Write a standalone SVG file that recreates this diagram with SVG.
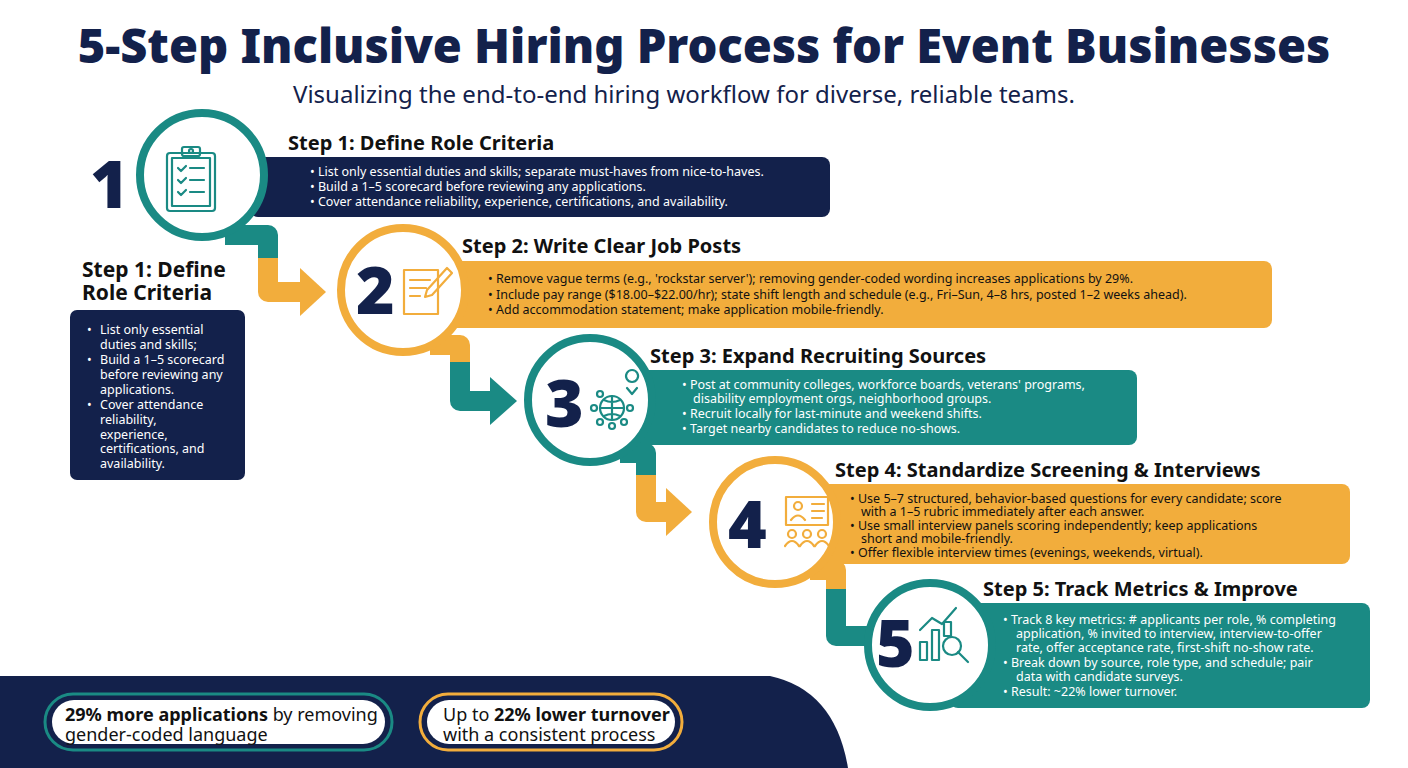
<svg xmlns="http://www.w3.org/2000/svg" width="1408" height="768" viewBox="0 0 1408 768">
<style>
.title{font-family:"Noto Sans",sans-serif;font-weight:900;font-size:47px;fill:#13214b}
.sub{font-family:"Noto Sans",sans-serif;font-size:24px;fill:#13214b}
.h{font-family:"Noto Sans",sans-serif;font-weight:700;font-size:20px;fill:#111}
.b{font-family:"Noto Sans",sans-serif;font-size:12.5px;fill:#fff}
.bd{font-family:"Noto Sans",sans-serif;font-size:12.5px;fill:#111}
.num{font-family:"Noto Sans",sans-serif;font-weight:900;font-size:66px;fill:#13214b}
.navy{fill:#13214b}.teal{fill:#1a8a84}.orng{fill:#f2ad3c}
.ct{fill:#fff;stroke:#1a8a84;stroke-width:8}
.co{fill:#fff;stroke:#f2ad3c;stroke-width:8}
.ic{fill:none;stroke-width:2.2;stroke-linecap:round;stroke-linejoin:round}
.pill{font-family:"Noto Sans",sans-serif;font-size:18px;fill:#111}
</style>
<rect width="1408" height="768" fill="#fff"/>
<text class="title" x="704" y="63" text-anchor="middle">5-Step Inclusive Hiring Process for Event Businesses</text>
<text class="sub" x="684" y="103" text-anchor="middle">Visualizing the end-to-end hiring workflow for diverse, reliable teams.</text>

<g id="connectors" fill="none" stroke-width="20" stroke-linejoin="round">
<path d="M225,235 H268 V262" stroke="#1a8a84"/>
<path d="M268,258 V292 H302" stroke="#f2ad3c"/>
<polygon points="300,268 326,292 300,316" fill="#f2ad3c" stroke="none"/>
<path d="M430,345 H460 V365" stroke="#f2ad3c"/>
<path d="M460,362 V401 H492" stroke="#1a8a84"/>
<polygon points="490,377 517,401 490,425" fill="#1a8a84" stroke="none"/>
<path d="M620,453 H646 V478" stroke="#1a8a84"/>
<path d="M646,475 V512 H668" stroke="#f2ad3c"/>
<polygon points="666,488 692,512 666,536" fill="#f2ad3c" stroke="none"/>
<path d="M810,570 H836 V592" stroke="#f2ad3c"/>
<path d="M836,589 V636 H872" stroke="#1a8a84"/>
</g>

<g id="step1">
<rect x="250" y="157" width="580" height="60" rx="8" class="navy"/>
<text class="h" x="288" y="150">Step 1: Define Role Criteria</text>
<text class="b" x="310" y="176">•  List only essential duties and skills; separate must-haves from nice-to-haves.</text>
<text class="b" x="310" y="191">•  Build a 1–5 scorecard before reviewing any applications.</text>
<text class="b" x="310" y="206">•  Cover attendance reliability, experience, certifications, and availability.</text>
<circle cx="202" cy="175" r="62" class="ct"/>
<text class="num" x="90" y="208">1</text>
<g class="ic" stroke="#1a8a84">
<rect x="167" y="153" width="48" height="58" rx="3"/><rect x="172" y="158" width="38" height="48"/>
<rect x="182" y="147" width="18" height="9" rx="2"/><circle cx="191" cy="151" r="2"/>
<path d="M178,168 l3,3 l5,-5 M190,168 H204 M178,180 l3,3 l5,-5 M190,180 H204 M178,192 l3,3 l5,-5 M190,192 H204"/>
</g>
</g>

<g id="step2">
<rect x="430" y="261" width="842" height="67" rx="8" class="orng"/>
<text class="h" x="462" y="253">Step 2: Write Clear Job Posts</text>
<text class="bd" x="488" y="283">•  Remove vague terms (e.g., 'rockstar server'); removing gender-coded wording increases applications by 29%.</text>
<text class="bd" x="488" y="299">•  Include pay range ($18.00–$22.00/hr); state shift length and schedule (e.g., Fri–Sun, 4–8 hrs, posted 1–2 weeks ahead).</text>
<text class="bd" x="488" y="314">•  Add accommodation statement; make application mobile-friendly.</text>
<circle cx="403" cy="290" r="62" class="co"/>
<text class="num" x="356" y="314">2</text>
<g class="ic" stroke="#f2ad3c">
<rect x="404" y="270" width="34" height="44"/>
<path d="M410,280 H430 M410,288 H426 M410,296 H420 M447,268 l5,5 l-20,22 l-7,2 l2,-7 z"/>
</g>
</g>

<g id="step3">
<rect x="615" y="370" width="522" height="75" rx="8" class="teal"/>
<text class="h" x="650" y="363">Step 3: Expand Recruiting Sources</text>
<text class="b" x="682" y="389">•  Post at community colleges, workforce boards, veterans' programs,</text>
<text class="b" x="693" y="403">disability employment orgs, neighborhood groups.</text>
<text class="b" x="682" y="418">•  Recruit locally for last-minute and weekend shifts.</text>
<text class="b" x="682" y="433">•  Target nearby candidates to reduce no-shows.</text>
<circle cx="590" cy="400" r="62" class="ct"/>
<text class="num" x="545" y="427">3</text>
<g class="ic" stroke="#1a8a84">
<circle cx="612" cy="408" r="12"/><path d="M600,408 H624 M612,396 V420 M604,400 Q612,404 620,400 M604,416 Q612,412 620,416"/>
<circle cx="594" cy="408" r="3"/><circle cx="612" cy="426" r="3"/><circle cx="630" cy="408" r="3"/><circle cx="600" cy="394" r="3"/><circle cx="624" cy="422" r="3"/><circle cx="600" cy="422" r="3"/>
<path d="M632,382 a6,6 0 1,1 0.1,0 M632,394 l-5,-6 M632,394 l5,-6"/>
</g>
</g>

<g id="step4">
<rect x="800" y="484" width="550" height="80" rx="8" class="orng"/>
<text class="h" x="835" y="477">Step 4: Standardize Screening &amp; Interviews</text>
<text class="bd" x="850" y="503">•  Use 5–7 structured, behavior-based questions for every candidate; score</text>
<text class="bd" x="861" y="516">with a 1–5 rubric immediately after each answer.</text>
<text class="bd" x="850" y="530">•  Use small interview panels scoring independently; keep applications</text>
<text class="bd" x="861" y="543">short and mobile-friendly.</text>
<text class="bd" x="850" y="557">•  Offer flexible interview times (evenings, weekends, virtual).</text>
<circle cx="775" cy="522" r="62" class="co"/>
<text class="num" x="728" y="548">4</text>
<g class="ic" stroke="#f2ad3c">
<rect x="786" y="497" width="42" height="28"/><circle cx="798" cy="506" r="4"/><path d="M791,520 q7,-9 14,0 M812,504 H824 M812,511 H824 M812,518 H822"/>
<circle cx="792" cy="534" r="4"/><circle cx="807" cy="534" r="4"/><circle cx="822" cy="534" r="4"/>
<path d="M785,546 q7,-10 14,0 M800,546 q7,-10 14,0 M815,546 q7,-10 14,0"/>
</g>
</g>

<g id="step5">
<rect x="950" y="603" width="420" height="105" rx="8" class="teal"/>
<text class="h" x="983" y="596">Step 5: Track Metrics &amp; Improve</text>
<text class="b" x="1003" y="624">•  Track 8 key metrics: # applicants per role, % completing</text>
<text class="b" x="1016" y="638">application, % invited to interview, interview-to-offer</text>
<text class="b" x="1016" y="652">rate, offer acceptance rate, first-shift no-show rate.</text>
<text class="b" x="1003" y="667">•  Break down by source, role type, and schedule; pair</text>
<text class="b" x="1016" y="681">data with candidate surveys.</text>
<text class="b" x="1003" y="696">•  Result: ~22% lower turnover.</text>
<circle cx="930" cy="645" r="62" class="ct"/>
<text class="num" x="876" y="667">5</text>
<g class="ic" stroke="#1a8a84">
<rect x="920" y="642" width="7" height="18"/><rect x="932" y="630" width="7" height="30"/><rect x="944" y="622" width="7" height="14"/>
<path d="M920,630 L932,618 L942,624 L956,608"/><circle cx="952" cy="646" r="9"/><path d="M958,652 L968,662"/>
</g>
</g>

<g id="sidebox">
<text class="h" x="82" y="277" style="font-size:21px">Step 1: Define</text>
<text class="h" x="82" y="300" style="font-size:21px">Role Criteria</text>
<rect x="70" y="310" width="175" height="170" rx="7" class="navy"/>
<g class="b">
<text x="87" y="334">•</text><text x="100" y="334">List only essential</text><text x="100" y="349">duties and skills;</text>
<text x="87" y="364">•</text><text x="100" y="364">Build a 1–5 scorecard</text><text x="100" y="379">before reviewing any</text><text x="100" y="394">applications.</text>
<text x="87" y="409">•</text><text x="100" y="409">Cover attendance</text><text x="100" y="424">reliability,</text><text x="100" y="439">experience,</text><text x="100" y="453">certifications, and</text><text x="100" y="468">availability.</text>
</g>
</g>

<g id="footer">
<path d="M0,676 H770 Q835,690 848,768 H0 Z" class="navy"/>
<rect x="45" y="694" width="347" height="56" rx="28" fill="none" stroke="#1a8a84" stroke-width="3"/>
<rect x="52" y="700" width="333" height="44" rx="22" fill="#fff"/>
<text class="pill" x="65" y="721"><tspan font-weight="700">29% more applications</tspan> by removing</text>
<text class="pill" x="65" y="741">gender-coded language</text>
<rect x="420" y="694" width="262" height="56" rx="28" fill="none" stroke="#f2ad3c" stroke-width="3"/>
<rect x="427" y="700" width="248" height="44" rx="22" fill="#fff"/>
<text class="pill" x="443" y="721">Up to <tspan font-weight="700">22% lower turnover</tspan></text>
<text class="pill" x="443" y="741">with a consistent process</text>
</g>
</svg>
